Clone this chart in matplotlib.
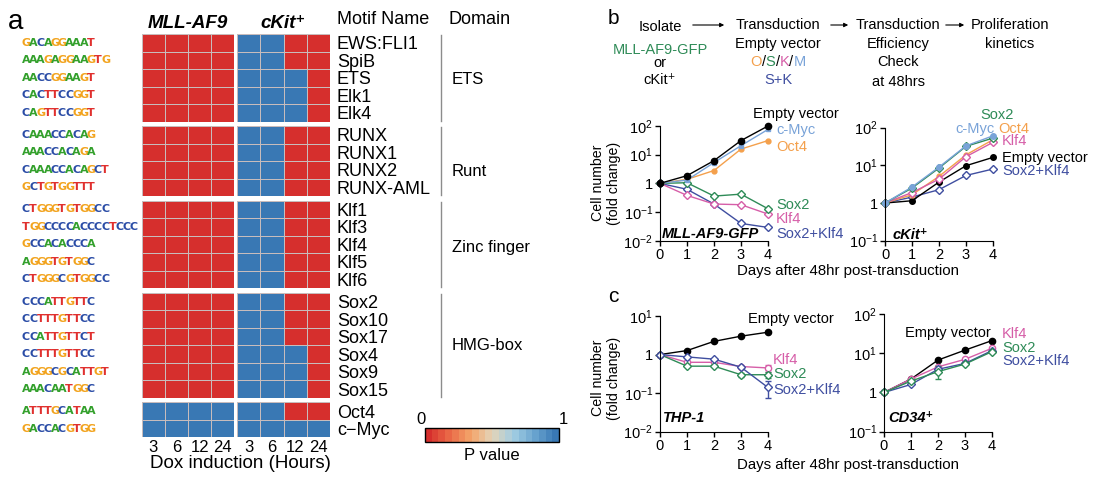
"""Motif enrichment heatmap (a) and proliferation kinetics (b, c)."""

import matplotlib

matplotlib.use("Agg")

import matplotlib.pyplot as plt
import numpy as np
from matplotlib import cm
from matplotlib.colors import LinearSegmentedColormap, Normalize
from matplotlib.lines import Line2D
from matplotlib.patches import FancyArrowPatch
from matplotlib.ticker import NullLocator

plt.rcParams["font.family"] = ["Liberation Sans", "DejaVu Sans"]
plt.rcParams["mathtext.fontset"] = "custom"
plt.rcParams["mathtext.rm"] = "Liberation Sans"
plt.rcParams["mathtext.it"] = "Liberation Sans:italic"
plt.rcParams["mathtext.bf"] = "Liberation Sans:bold"

W, H = 1096, 488

# ---- panel a data ----
motif_names = [
    "EWS:FLI1", "SpiB", "ETS", "Elk1", "Elk4",
    "RUNX", "RUNX1", "RUNX2", "RUNX-AML",
    "Klf1", "Klf3", "Klf4", "Klf5", "Klf6",
    "Sox2", "Sox10", "Sox17", "Sox4", "Sox9", "Sox15",
    "Oct4", "c\u2212Myc",
]
motif_logos = [
    "GACAGGAAAT", "AAAGAGGAAGTG", "AACCGGAAGT", "CACTTCCGGT", "CAGTTCCGGT",
    "CAAACCACAG", "AAACCACAGA", "CAAACCACAGCT", "GCTGTGGTTT",
    "CTGGGTGTGGCC", "TGGCCCCACCCCTCCC", "GCCACACCCA", "AGGGTGTGGC", "CTGGGCGTGGCC",
    "CCCATTGTTC", "CCTTTGTTCC", "CCATTGTTCT", "CCTTTGTTCC", "AGGGCGCATTGT", "AAACAATGGC",
    "ATTTGCATAA", "GACCACGTGG",
]
group_sizes = [5, 4, 5, 6, 2]
domain_names = ["ETS", "Runt", "Zinc finger", "HMG-box"]
dox_hours = ["3", "6", "12", "24"]
mll_pval = [
    [0, 0, 0, 0], [0, 0, 0, 0], [0, 0, 0, 0], [0, 0, 0, 0], [0, 0, 0, 0],
    [0, 0, 0, 0], [0, 0, 0, 0], [0, 0, 0, 0], [0, 0, 0, 0],
    [0, 0, 0, 0], [0, 0, 0, 0], [0, 0, 0, 0], [0, 0, 0, 0], [0, 0, 0, 0],
    [0, 0, 0, 0], [0, 0, 0, 0], [0, 0, 0, 0], [0, 0, 0, 0], [0, 0, 0, 0], [0, 0, 0, 0],
    [1, 1, 1, 1], [1, 1, 1, 1],
]
ckit_pval = [
    [1, 1, 0, 0], [1, 1, 0, 0], [1, 1, 1, 0], [1, 1, 1, 0], [1, 1, 1, 0],
    [1, 1, 0, 0], [1, 1, 0, 0], [1, 1, 0, 0], [1, 1, 0, 0],
    [1, 1, 0, 0], [1, 1, 0, 0], [1, 1, 0, 0], [1, 1, 0, 0], [1, 1, 0, 0],
    [1, 1, 0, 0], [1, 1, 0, 0], [1, 1, 0, 0], [1, 1, 1, 0], [1, 1, 1, 0], [1, 1, 1, 0],
    [1, 1, 0, 0], [1, 1, 1, 1],
]

# ---- panel b/c data (fold change) ----
days = [0, 1, 2, 3, 4]
mll_empty = [1, 1.85, 6.2, 31, 100]
mll_cmyc = [1, 1.3, 5.3, 20.6, 76]
mll_oct4 = [1, 1.38, 2.8, 15.7, 31]
mll_sox2 = [1, 1.05, 0.36, 0.42, 0.13]
mll_klf4 = [1, 0.38, 0.19, 0.18, 0.085]
mll_sox2klf4 = [1, 0.62, 0.19, 0.04, 0.029]

ckit_empty = [1, 1.15, 3.6, 9.8, 16.3]
ckit_cmyc = [1, 2.66, 9.0, 33, 61]
ckit_oct4 = [1, 1.66, 5.1, 19, 48]
ckit_sox2 = [1, 2.5, 8.5, 32, 53]
ckit_klf4 = [1, 1.9, 4.3, 17, 41]
ckit_sox2klf4 = [1, 1.44, 2.26, 5.4, 8.0]

thp_empty = [1, 1.27, 2.2, 3.0, 3.8]
thp_klf4 = [1, 0.63, 0.63, 0.49, 0.45]
thp_klf4_err = [0, 0, 0, 0, 0.1]
thp_sox2 = [1, 0.5, 0.5, 0.3, 0.3]
thp_sox2_err = [0, 0, 0, 0.04, 0.05]
thp_sox2klf4 = [1, 0.87, 0.76, 0.47, 0.14]
thp_sox2klf4_err = [0, 0, 0, 0, 0.065]

cd34_empty = [1, 2.2, 6.7, 12, 21]
cd34_klf4 = [1, 2.2, 4.5, 7.0, 13.4]
cd34_sox2 = [1, 1.95, 3.4, 5.3, 11]
cd34_sox2_err = [0, 0, 1.2, 0, 0]
cd34_sox2klf4 = [1, 1.6, 3.9, 5.5, 11.7]

C_EMPTY = "black"
C_MYC = "#79a3d8"
C_OCT4 = "#f4a04c"
C_SOX2 = "#2e8b57"
C_KLF4 = "#d65ea8"
C_SK = "#3f4ea0"
LOGO_COLORS = {"A": "#33a02c", "C": "#2a4ca6", "G": "#f2a31d", "T": "#e0302e"}

pcmap = LinearSegmentedColormap.from_list(
    "pval",
    ["#d62f2d", "#ea6a47", "#f3a46a", "#e3d4b8", "#a2cde2", "#6aa4cf", "#3978b4"],
    N=20,
)

fig = plt.figure(figsize=(W / 100, H / 100), dpi=100)


def fbox(left, top, width, height):
    return [left / W, 1 - (top + height) / H, width / W, height / H]


def ftext(x, y, s, **kw):
    kw.setdefault("ha", "left")
    kw.setdefault("va", "center")
    return fig.text(x / W, 1 - y / H, s, **kw)


# ================= panel a =================
ftext(8, 22, "a", fontsize=20)
ftext(188, 23, "MLL-AF9", ha="center", fontsize=13.5, fontweight="bold", style="italic")
ftext(283, 23, "cKit\u207a", ha="center", fontsize=13.5, fontweight="bold", style="italic")
ftext(337, 20, "Motif Name", fontsize=13)
ftext(449, 20, "Domain", fontsize=13)

row_h = 17.5
gap = 4.6
top = 34.0
row = 0
domain_label_y = [79, 171, 247, 345]
for gi, n in enumerate(group_sizes):
    for left, vals in ((141.5, mll_pval), (237.0, ckit_pval)):
        ax = fig.add_axes(fbox(left, top, 93, n * row_h))
        ax.pcolormesh(np.array(vals[row:row + n], dtype=float), cmap=pcmap,
                      vmin=0, vmax=1, edgecolors="#c8bcbc", linewidth=0.5)
        ax.set_xlim(0, 4)
        ax.set_ylim(n, 0)
        for s in ax.spines.values():
            s.set_visible(False)
        ax.set_xticks([])
        ax.set_yticks([])
        if left > 200:
            ax.yaxis.tick_right()
            ax.set_yticks(np.arange(n) + 0.5)
            ax.set_yticklabels(motif_names[row:row + n], fontsize=13)
            ax.tick_params(axis="y", length=0, pad=5)
        if gi == len(group_sizes) - 1:
            ax.set_xticks(np.arange(4) + 0.5)
            ax.set_xticklabels(dox_hours, fontsize=12)
            ax.tick_params(axis="x", length=0, pad=2)
    # logos, one coloured letter per position
    for k in range(n):
        yc = top + (k + 0.5) * row_h
        for j, ch in enumerate(motif_logos[row + k]):
            ftext(22 + j * 7.2, yc, ch, color=LOGO_COLORS[ch], fontsize=8,
                  fontweight="bold", family=["Liberation Sans Narrow", "DejaVu Sans"])
    if gi < len(domain_names):
        fig.add_artist(Line2D([441 / W, 441 / W],
                              [1 - (top + 1) / H, 1 - (top + n * row_h - 1) / H],
                              color="#8c8c8c", lw=1))
        ftext(452, domain_label_y[gi], domain_names[gi], fontsize=12)
    top += n * row_h + gap
    row += n

ftext(240, 463, "Dox induction (Hours)", ha="center", fontsize=13.5)

cax = fig.add_axes(fbox(425, 428, 134, 14))
cb = fig.colorbar(cm.ScalarMappable(norm=Normalize(0, 1), cmap=pcmap), cax=cax,
                  orientation="horizontal")
cb.set_ticks([])
cb.outline.set_linewidth(1)
ftext(421, 420, "0", ha="center", fontsize=12)
ftext(563, 420, "1", ha="center", fontsize=12)
ftext(492, 455, "P value", ha="center", fontsize=12)

# ================= panel b flow chart =================
ftext(613, 18, "b", fontsize=15, ha="center")
FS = 10.5
for x, y, s, c in [
    (660, 27, "Isolate", "black"),
    (660, 50, "MLL-AF9-GFP", C_SOX2),
    (660, 63, "or", "black"),
    (660, 80, "cKit\u207a", "black"),
    (778, 25, "Transduction", "black"),
    (778, 44, "Empty vector", "black"),
    (778, 80, "S+K", C_SK),
    (898, 25, "Transduction", "black"),
    (898, 44, "Efficiency", "black"),
    (898, 62, "Check", "black"),
    (898, 82, "at 48hrs", "black"),
    (1010, 25, "Proliferation", "black"),
    (1010, 44, "kinetics", "black"),
]:
    ftext(x, y, s, ha="center", fontsize=FS, color=c)

renderer = fig.canvas.get_renderer()
parts = [("O", C_OCT4), ("/", "black"), ("S", C_SOX2), ("/", "black"),
         ("K", C_KLF4), ("/", "black"), ("M", C_MYC)]
pieces = [ftext(0, 62, s, color=c, fontsize=FS) for s, c in parts]
widths = [p.get_window_extent(renderer).width for p in pieces]
xx = 778 - sum(widths) / 2
for p, w in zip(pieces, widths):
    p.set_position((xx / W, 1 - 62 / H))
    xx += w

for x0, x1 in [(690, 727), (828, 851), (943, 967)]:
    fig.add_artist(FancyArrowPatch((x0 / W, 1 - 25 / H), (x1 / W, 1 - 25 / H),
                                   transform=fig.transFigure, arrowstyle="-|>",
                                   mutation_scale=6, lw=0.8, color="black"))

# ================= growth curves =================
TICKFMT = {0.01: "$10^{-2}$", 0.1: "$10^{-1}$", 1: "1", 10: "$10^{1}$", 100: "$10^{2}$"}


def growth_axes(left, top, width, height, ylo, yhi):
    ax = fig.add_axes(fbox(left, top, width, height))
    ax.set_yscale("log")
    ax.set_xlim(0, 4)
    ax.set_ylim(ylo, yhi)
    yt = [v for v in TICKFMT if ylo <= v <= yhi]
    ax.set_yticks(yt)
    ax.set_yticklabels([TICKFMT[v] for v in yt])
    ax.yaxis.set_minor_locator(NullLocator())
    ax.set_xticks(days)
    ax.spines["top"].set_visible(False)
    ax.spines["right"].set_visible(False)
    ax.tick_params(direction="out", length=3.5, width=1, labelsize=10.5, pad=1.5)
    ax.patch.set_alpha(0)
    return ax


def series(ax, y, color, marker, filled, ms=4.5, yerr=None):
    kw = dict(color=color, lw=1, marker=marker, ms=ms, clip_on=False,
              mfc=color if filled else "white", mec=color, mew=1)
    if yerr is None:
        ax.plot(days, y, **kw)
    else:
        ax.errorbar(days, y, yerr=yerr, capsize=2.5, elinewidth=1, **kw)


ax = growth_axes(660, 126, 108, 114.7, 0.01, 100)
series(ax, mll_sox2klf4, C_SK, "D", False, ms=4)
series(ax, mll_klf4, C_KLF4, "D", False, ms=4)
series(ax, mll_sox2, C_SOX2, "D", False, ms=4)
series(ax, mll_oct4, C_OCT4, "o", True, ms=3.5)
series(ax, mll_cmyc, C_MYC, "s", True, ms=3.5)
series(ax, mll_empty, C_EMPTY, "o", True)

ax = growth_axes(885, 127.7, 108, 113, 0.1, 100)
series(ax, ckit_sox2klf4, C_SK, "D", False, ms=4)
series(ax, ckit_empty, C_EMPTY, "o", True, ms=4)
series(ax, ckit_oct4, C_OCT4, "o", True, ms=3.5)
series(ax, ckit_klf4, C_KLF4, "D", False, ms=4)
series(ax, ckit_sox2, C_SOX2, "D", False, ms=4)
series(ax, ckit_cmyc, C_MYC, "o", True, ms=4)

ax = growth_axes(660, 316, 108, 115.7, 0.01, 10)
series(ax, thp_empty, C_EMPTY, "o", True)
series(ax, thp_klf4, C_KLF4, "o", False, ms=4.5, yerr=thp_klf4_err)
series(ax, thp_sox2, C_SOX2, "D", False, ms=4, yerr=thp_sox2_err)
series(ax, thp_sox2klf4, C_SK, "D", False, ms=4, yerr=thp_sox2klf4_err)

ax = growth_axes(884, 314, 108, 117.7, 0.1, 100)
series(ax, cd34_empty, C_EMPTY, "o", True)
series(ax, cd34_klf4, C_KLF4, "o", False, ms=4.5)
series(ax, cd34_sox2, C_SOX2, "D", False, ms=4, yerr=cd34_sox2_err)
series(ax, cd34_sox2klf4, C_SK, "D", False, ms=4)

# series labels
LFS = 10.5
for x, y, s, c in [
    (753, 114, "Empty vector", C_EMPTY), (776, 130, "c-Myc", C_MYC),
    (776, 147, "Oct4", C_OCT4), (776, 205, "Sox2", C_SOX2),
    (776, 219, "Klf4", C_KLF4), (776, 234, "Sox2+Klf4", C_SK),
    (980, 115, "Sox2", C_SOX2), (955, 129, "c-Myc", C_MYC),
    (998, 129, "Oct4", C_OCT4), (1002, 141, "Klf4", C_KLF4),
    (1002, 158, "Empty vector", C_EMPTY), (1002, 171, "Sox2+Klf4", C_SK),
    (748, 319, "Empty vector", C_EMPTY), (773, 360, "Klf4", C_KLF4),
    (773, 374, "Sox2", C_SOX2), (773, 390, "Sox2+Klf4", C_SK),
    (905, 333, "Empty vector", C_EMPTY), (1002, 334, "Klf4", C_KLF4),
    (1002, 348, "Sox2", C_SOX2), (1002, 361, "Sox2+Klf4", C_SK),
]:
    ftext(x, y, s, color=c, fontsize=LFS)

for x, y, s in [(662, 234, "MLL-AF9-GFP"), (893, 235, "cKit\u207a"),
                (663, 418, "THP-1"), (888, 418, "CD34\u207a")]:
    ftext(x, y, s, fontsize=10.5, fontweight="bold", style="italic")

for yc in (183, 378):
    ftext(606, yc, "Cell number\n(fold change)", ha="center", rotation=90,
          fontsize=10.2, linespacing=1.1)
ftext(848, 271, "Days after 48hr post-transduction", ha="center", fontsize=10.8)
ftext(848, 465, "Days after 48hr post-transduction", ha="center", fontsize=10.8)
ftext(613, 297, "c", fontsize=15, ha="center")

fig.savefig("out.png", dpi=100, facecolor="white")
